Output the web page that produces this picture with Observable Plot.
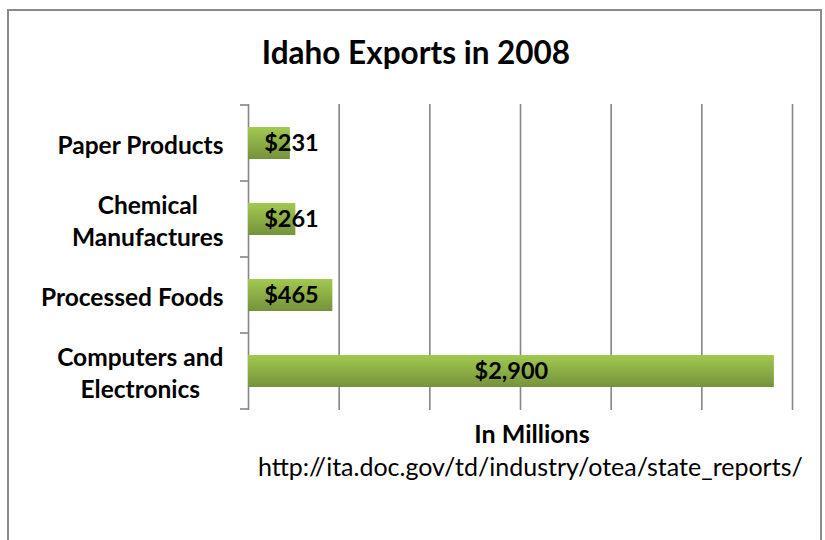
<!DOCTYPE html>
<html>
<head>
<meta charset="utf-8">
<script src="https://cdn.jsdelivr.net/npm/d3@7"></script>
<script src="https://cdn.jsdelivr.net/npm/@observablehq/plot@0.6"></script>
<style>
  html, body { margin: 0; padding: 0; background: #fff; }
  body { width: 825px; height: 540px; position: relative; overflow: hidden; font-family: Lato, "Open Sans", sans-serif; }
  #frame { position: absolute; left: 7px; top: 9px; width: 815px; height: 560px; border: 2px solid #8a8a8a; box-sizing: border-box; }
  #title { position: absolute; left: 0; top: 36px; width: 832px; text-align: center; font-size: 31.5px; line-height: 32px; font-weight: bold; color: #000; }
  #chart { position: absolute; left: 0; top: 90px; }
  #xlabel { position: absolute; left: 432px; width: 200px; top: 421px; line-height: 25px; text-align: center; font-size: 25px; font-weight: bold; }
  #source { position: absolute; left: 258px; top: 454px; line-height: 25px; font-size: 25px; color: #000; white-space: nowrap; }
</style>
</head>
<body>
<div id="frame"></div>
<div id="title">Idaho Exports in 2008</div>
<div id="chart"></div>
<div id="xlabel">In Millions</div>
<div id="source">http://ita.doc.gov/td/industry/otea/state_reports/</div>
<script>
const categories = ["Paper Products", "Chemical\nManufactures", "Processed Foods", "Computers and\nElectronics"];
const values = [231, 261, 465, 2900];
const valueLabels = ["$231", "$261", "$465", "$2,900"];
const xTicks = [0, 500, 1000, 1500, 2000, 2500, 3000];

const data = categories.map((c, i) => ({category: c, value: values[i], label: valueLabels[i]}));

const plot = Plot.plot({
  width: 825,
  height: 340,
  marginLeft: 248,
  marginRight: 33,
  marginTop: 14,
  marginBottom: 20,
  style: {fontFamily: "Lato, 'Open Sans', sans-serif", background: "transparent", overflow: "visible"},
  x: {domain: [0, 3000], axis: null},
  y: {domain: categories, paddingInner: 0.58, paddingOuter: 0.29, axis: null},
  marks: [
    Plot.ruleX(xTicks, {x: d => d, stroke: "#868686", strokeWidth: 1.6}),
    Plot.barX(data, {x: "value", y: "category", fill: "url(#barGrad)", style: "filter: drop-shadow(3px 4px 3px rgba(0,0,0,0.35))"}),
    Plot.text(data, {x: d => Math.max(d.value / 2, 237), y: "category", text: "label", fontSize: 23.5, fontWeight: "bold", fill: "#000"}),
    Plot.axisY({tickSize: 0, tickPadding: 25, fontSize: 24.5, fontWeight: "bold", lineHeight: 1.3, fill: "#000", label: null, tickFormat: d => d})
  ]
});

// gradient definition for the bars
const svg = d3.select(plot);
const defs = svg.insert("defs", ":first-child");
const grad = defs.append("linearGradient").attr("id", "barGrad").attr("x1", 0).attr("y1", 0).attr("x2", 0).attr("y2", 1);
grad.append("stop").attr("offset", "0%").attr("stop-color", "#a2c94f");
grad.append("stop").attr("offset", "100%").attr("stop-color", "#75923b");

// category boundary tick marks on the y axis, using the band scale
const ys = plot.scale("y");
const step = ys.step;
const bounds = categories.map(c => ys.apply(c) - (step - ys.bandwidth) / 2);
bounds.push(bounds[bounds.length - 1] + step);
const x0 = plot.scale("x").apply(0);
const g = svg.append("g").attr("stroke", "#868686").attr("stroke-width", 1.6);
bounds.forEach(b => g.append("line").attr("x1", x0 - 8).attr("x2", x0).attr("y1", b).attr("y2", b));

document.getElementById("chart").appendChild(plot);

// center-align the lines of multi-line category labels, keeping the right edge
svg.selectAll("text").each(function() {
  const tspans = this.querySelectorAll("tspan");
  if (tspans.length > 1) {
    let maxW = 0;
    tspans.forEach(t => { maxW = Math.max(maxW, t.getComputedTextLength()); });
    this.setAttribute("text-anchor", "middle");
    tspans.forEach(t => t.setAttribute("x", -maxW / 2));
  }
});
</script>
</body>
</html>
